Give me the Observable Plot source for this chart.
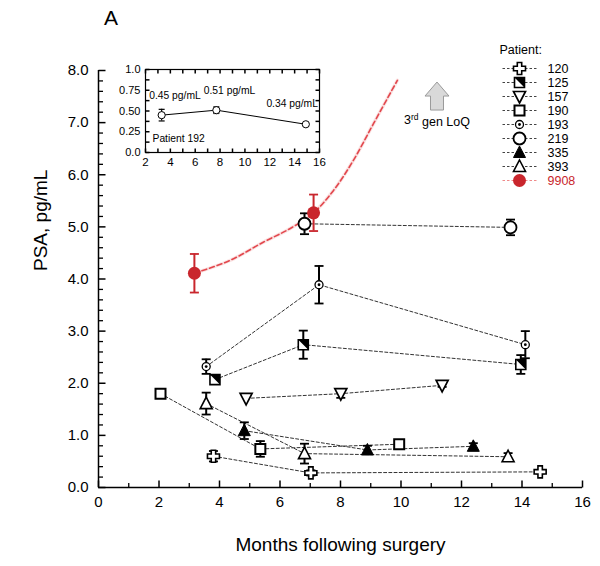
<!DOCTYPE html>
<html><head><meta charset="utf-8">
<script src="https://cdn.jsdelivr.net/npm/d3@7"></script>
<script src="https://cdn.jsdelivr.net/npm/@observablehq/plot@0.6"></script>
<style>
body{margin:0;background:#fff;}
#wrap{position:relative;width:600px;height:566px;font-family:"Liberation Sans",Arial,sans-serif;color:#000;overflow:hidden;}
#wrap > *{position:absolute;}
</style></head><body><div id="wrap"></div>
<script>
// ---------- data ----------
const patients = ["120","125","157","190","193","219","335","393","9908"];
const obsPatient = ["120","120","120","125","125","125","157","157","157","190","190","190","193","193","193","219","219","335","335","335","393","393","393","9908","9908"];
const obsMonth   = [3.80,7.02,14.60, 3.85,6.77,13.96, 4.88,8.01,11.36, 2.05,5.35,9.94, 3.56,7.29,14.11, 6.81,13.62, 4.82,8.89,12.39, 3.56,6.81,13.54, 3.17,7.11];
const obsPSA     = [0.60,0.28,0.30, 2.07,2.74,2.36, 1.71,1.80,1.96, 1.80,0.74,0.83, 2.32,3.89,2.74, 5.06,4.99, 1.09,0.72,0.79, 1.61,0.65,0.59, 4.11,5.27];
const obsErr     = [0.10,0.05,0.03, 0.04,0.27,0.18, 0.00,0.08,0.03, 0.00,0.15,0.07, 0.14,0.36,0.26, 0.20,0.15, 0.16,0.08,0.06, 0.21,0.19,0.07, 0.37,0.35];
// red fitted curve for patient 9908
const fitMonth = [3.17,4.36,5.46,6.34,7.11,7.77,8.43,9.09,9.88];
const fitPSA   = [4.11,4.36,4.71,4.97,5.27,5.70,6.28,6.98,7.81];
// axis ticks
const xTicks = [0,2,4,6,8,10,12,14,16];
const xMinor = [1,3,5,7,9,11,13,15];
const yTicks = [0,1,2,3,4,5,6,7,8];
const yMinor = d3.range(0,8.001,0.2).filter(v => Math.abs(v - Math.round(v)) > 1e-6);
// LoQ annotation
const loqMonth = [11.19];
const loqArrowPSA = [7.51];
const loqTextPSA = [7.05];
// inset (patient 192)
const insetMonth = [3.3,7.7,14.9];
const insetPSA   = [0.45,0.51,0.34];
const insetErr   = [0.07,0.04,0.0];
const insetXTicks = [2,4,6,8,10,12,14,16];
const insetYTicks = [0,0.25,0.5,0.75,1];
const insetNoteText = ["0.45 pg/mL","0.51 pg/mL","0.34 pg/mL","Patient 192"];
const insetNoteMonth = [4.37,8.76,13.8,4.66];
const insetNotePSA = [0.69,0.747,0.587,0.165];

// ---------- helpers ----------
const RED = "#c9262d";
const poly = pts => ({draw(ctx){ctx.moveTo(pts[0][0],pts[0][1]); for (let i=1;i<pts.length;i++) ctx.lineTo(pts[i][0],pts[i][1]); ctx.closePath();}});
const circ = r => ({draw(ctx){ctx.moveTo(r,0); ctx.arc(0,0,r,0,2*Math.PI);}});
const hLine = w => ({draw(ctx){ctx.moveTo(-w,0); ctx.lineTo(w,0);}});
const tickH = L => ({draw(ctx){ctx.moveTo(0,0); ctx.lineTo(L,0);}});
const tickV = L => ({draw(ctx){ctx.moveTo(0,0); ctx.lineTo(0,L);}});
const symCross = poly([[-2.2,-6],[2.2,-6],[2.2,-2.2],[6,-2.2],[6,2.2],[2.2,2.2],[2.2,6],[-2.2,6],[-2.2,2.2],[-6,2.2],[-6,-2.2],[-2.2,-2.2]]);
const symSquare = poly([[-5,-5],[5,-5],[5,5],[-5,5]]);
const symHalf = poly([[-5,-5],[5,-5],[5,5]]);
const symTriUp = poly([[0,-6.5],[6,5],[-6,5]]);
const symTriDown = poly([[0,6.5],[6,-5],[-6,-5]]);
const symArrow = poly([[0,-14],[12,0],[6.5,0],[6.5,14],[-6.5,14],[-6.5,0],[-12,0]]);

const markerLayers = {
  "120": [{symbol: symCross, fill:"white", stroke:"black", strokeWidth:1.6}],
  "125": [{symbol: symSquare, fill:"white", stroke:"black", strokeWidth:1.6},{symbol: symHalf, fill:"black"}],
  "157": [{symbol: symTriDown, fill:"white", stroke:"black", strokeWidth:1.7}],
  "190": [{symbol: symSquare, fill:"white", stroke:"black", strokeWidth:2}],
  "193": [{symbol: circ(4), fill:"white", stroke:"black", strokeWidth:1.3},{symbol: circ(1.4), fill:"black"}],
  "219": [{symbol: circ(6), fill:"white", stroke:"black", strokeWidth:1.8}],
  "335": [{symbol: symTriUp, fill:"black", stroke:"black", strokeWidth:1}],
  "393": [{symbol: symTriUp, fill:"white", stroke:"black", strokeWidth:1.6}],
  "9908":[{symbol: circ(6.5), fill:RED}]
};
function markerMarks(rows, channels) {
  const out = [];
  for (const p of patients) {
    const sub = rows.filter(d => d.patient === p);
    for (const layer of markerLayers[p]) out.push(Plot.dot(sub, {...channels, ...layer}));
  }
  return out;
}

const obs = obsPatient.map((p,i) => ({patient:p, month:obsMonth[i], psa:obsPSA[i], err:obsErr[i]}));
const errs = obs.filter(d => d.err > 0);
const fit = fitMonth.map((m,i) => ({month:m, psa:fitPSA[i]}));
const errColor = d => d.patient === "9908" ? RED : "black";

const FONT = '"Liberation Sans", Arial, sans-serif';
const wrap = document.getElementById("wrap");

// ---------- main chart ----------
const main = Plot.plot({
  width: 600, height: 566,
  marginLeft: 98, marginRight: 18, marginTop: 70, marginBottom: 79,
  x: {domain: [0,16]},
  y: {domain: [0,8]},
  style: {fontFamily: FONT, fontSize: "15px", color: "#000", background: "transparent", overflow: "visible"},
  marks: [
    Plot.ruleX([0], {stroke:"black", strokeWidth:1.5}),
    Plot.ruleY([0], {stroke:"black", strokeWidth:1.5}),
    Plot.dot(yTicks, {x: 0, y: d => d, symbol: tickH(7), stroke:"black", strokeWidth:1.5}),
    Plot.dot(yMinor, {x: 0, y: d => d, symbol: tickH(4.5), stroke:"black", strokeWidth:1.3}),
    Plot.dot(xTicks, {x: d => d, y: 0, symbol: tickV(-7), stroke:"black", strokeWidth:1.5}),
    Plot.dot(xMinor, {x: d => d, y: 0, symbol: tickV(-4.5), stroke:"black", strokeWidth:1.3}),
    Plot.axisY(yTicks, {tickSize: 0, tickPadding: 10, tickFormat: d3.format(".1f"), fontSize: 15, label: null}),
    Plot.axisX(xTicks, {tickSize: 0, tickPadding: 9, fontSize: 15, label: null}),
    Plot.text(["PSA, pg/mL"], {frameAnchor: "left", rotate: -90, dx: -58, dy: -8, fontSize: 19}),
    Plot.text(["Months following surgery"], {frameAnchor: "bottom", dy: 63, fontSize: 19}),
    // fitted curve for 9908
    Plot.line(fit, {x:"month", y:"psa", curve:"catmull-rom", stroke:"#f6cccc", strokeWidth:3.5, strokeOpacity:0.55}),
    Plot.line(fit, {x:"month", y:"psa", curve:"catmull-rom", stroke:"#e2474d", strokeWidth:1.6, strokeDasharray:"5,3"}),
    // connecting lines
    Plot.line(obs.filter(d => d.patient !== "9908"), {x:"month", y:"psa", z:"patient", stroke:"#333", strokeWidth:1, strokeDasharray:"3,2.2"}),
    // error bars
    Plot.ruleX(errs, {x:"month", y1: d => d.psa - d.err, y2: d => d.psa + d.err, stroke: errColor, strokeWidth: 2}),
    Plot.dot(errs, {x:"month", y: d => d.psa + d.err, symbol: hLine(4.5), stroke: errColor, strokeWidth: 1.8}),
    Plot.dot(errs, {x:"month", y: d => d.psa - d.err, symbol: hLine(4.5), stroke: errColor, strokeWidth: 1.8}),
    ...markerMarks(obs, {x:"month", y:"psa"}),
    // LoQ annotation
    Plot.dot(loqMonth, {x: d => d, y: loqArrowPSA, symbol: symArrow, fill:"#d9d9d9", stroke:"#9a9a9a", strokeWidth:1}),
    Plot.text(loqMonth, {x: d => d, y: loqTextPSA, text: () => "3rd gen LoQ", fontSize: 12.5})
  ]
});
main.style.left = "0px"; main.style.top = "0px";
d3.select(main).selectAll("text").filter(function(){ return this.textContent === "3rd gen LoQ"; }).each(function(){
  const t = d3.select(this); t.text("");
  t.append("tspan").text("3");
  t.append("tspan").attr("dy", "-0.45em").attr("font-size", "8.5px").text("rd");
  t.append("tspan").attr("dy", "0.45em").text(" gen LoQ");
});
wrap.appendChild(main);

// ---------- inset ----------
const insetRows = insetMonth.map((m,i) => ({month:m, psa:insetPSA[i], err:insetErr[i]}));
const insetErrRows = insetRows.filter(d => d.err > 0);
const insetNotes = insetNoteText.map((t,i) => ({text:t, month:insetNoteMonth[i], psa:insetNotePSA[i]}));
const inset = Plot.plot({
  width: 234, height: 116,
  marginLeft: 45, marginRight: 15, marginTop: 11, marginBottom: 22,
  x: {domain: [2,16]},
  y: {domain: [0,1]},
  style: {fontFamily: FONT, fontSize: "11px", color: "#000", background: "transparent", overflow: "visible"},
  marks: [
    Plot.frame({stroke:"black", strokeWidth:1.2}),
    Plot.dot(d3.range(2,16.01,1), {x: d => d, y: 0, symbol: tickV(-4), stroke:"black"}),
    Plot.dot(d3.range(2,16.01,1), {x: d => d, y: 1, symbol: tickV(4), stroke:"black"}),
    Plot.dot(d3.range(0,1.001,0.125), {x: 2, y: d => d, symbol: tickH(4), stroke:"black"}),
    Plot.dot(d3.range(0,1.001,0.125), {x: 16, y: d => d, symbol: tickH(-4), stroke:"black"}),
    Plot.axisX(insetXTicks, {tickSize: 0, tickPadding: 5, fontSize: 11.5, label: null}),
    Plot.axisY(insetYTicks, {tickSize: 0, tickPadding: 5, fontSize: 11, label: null,
      tickFormat: d => d === 0 ? "0.0" : d === 1 ? "1.0" : d.toFixed(2)}),
    Plot.line(insetRows, {x:"month", y:"psa", stroke:"black", strokeWidth:1}),
    Plot.ruleX(insetErrRows, {x:"month", y1: d => d.psa - d.err, y2: d => d.psa + d.err, stroke:"black", strokeWidth:1.2}),
    Plot.dot(insetErrRows, {x:"month", y: d => d.psa + d.err, symbol: hLine(3), stroke:"black", strokeWidth:1.2}),
    Plot.dot(insetErrRows, {x:"month", y: d => d.psa - d.err, symbol: hLine(3), stroke:"black", strokeWidth:1.2}),
    Plot.dot(insetRows, {x:"month", y:"psa", symbol: circ(3.6), fill:"white", stroke:"black", strokeWidth:1}),
    Plot.text(insetNotes, {x:"month", y:"psa", text:"text", fontSize: 10.3})
  ]
});
inset.style.left = "100px"; inset.style.top = "58px";
wrap.appendChild(inset);

// ---------- legend ----------
const legendRows = patients.map(p => ({patient: p}));
const legend = Plot.plot({
  width: 110, height: 160,
  margin: 0,
  x: {domain: [0,1], axis: null},
  y: {type: "point", domain: patients, range: [29.3, 147.7], padding: 0, axis: null},
  style: {fontFamily: FONT, fontSize: "12.5px", color: "#000", background: "transparent", overflow: "visible"},
  marks: [
    Plot.dot(legendRows, {y:"patient", frameAnchor:"left", dx: 29, symbol: hLine(17), stroke: d => d.patient === "9908" ? "#ef8a8a" : "#444", strokeWidth: 1, strokeDasharray: "2.5,2"}),
    ...markerMarks(legendRows, {y:"patient", frameAnchor:"left", dx: 29}),
    Plot.text(legendRows, {y:"patient", frameAnchor:"left", dx: 57, text:"patient", textAnchor:"start", fontSize: 12.5, fill: d => d.patient === "9908" ? RED : "black"}),
    Plot.text(["Patient:"], {frameAnchor:"top-left", dx: 9, dy: 10, textAnchor:"start", fontSize: 12.5})
  ]
});
legend.style.left = "490px"; legend.style.top = "35px";
wrap.appendChild(legend);

// panel letter
const letter = document.createElement("div");
letter.textContent = "A";
letter.style.cssText = "left:104px;top:7px;font-size:21px;line-height:1;";
wrap.appendChild(letter);
</script>
</body></html>
